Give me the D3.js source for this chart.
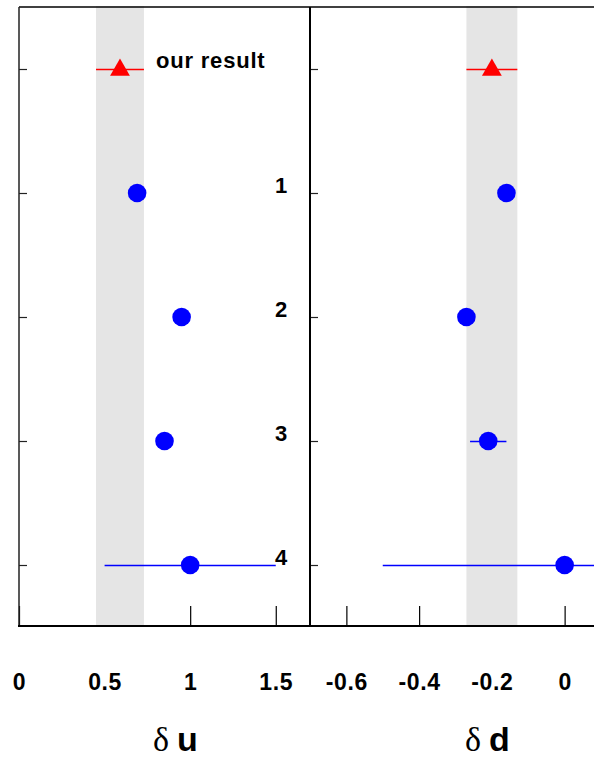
<!DOCTYPE html>
<html>
<head>
<meta charset="utf-8">
<script src="https://cdn.jsdelivr.net/npm/d3@7"></script>
<style>
html,body{margin:0;padding:0;background:#fff;overflow:hidden;}
svg{display:block;}
</style>
</head>
<body>
<svg id="chart" width="594" height="758"></svg>
<script>
// ---- data ----
const rowLabels = ["our result", "1", "2", "3", "4"];
const duValues = [0.59, 0.69, 0.95, 0.85, 1.0];
const duErrors = [0.14, 0, 0, 0, 0.5];
const ddValues = [-0.20, -0.16, -0.27, -0.21, 0.0];
const ddErrors = [0.07, 0, 0, 0.05, 0.5];
const bandU = [0.45, 0.73];
const bandD = [-0.27, -0.13];
const tickU = [0, 0.5, 1, 1.5];
const tickD = [-0.6, -0.4, -0.2, 0];
const tickLabelsU = ["0", "0.5", "1", "1.5"];
const tickLabelsD = ["-0.6", "-0.4", "-0.2", "0"];

(function () {
const svg = d3.select("#chart");
const yTop = 7, yBottom = 627;
const y = d3.scaleLinear().domain([-0.5, 4.5]).range([yTop, yBottom]);
const xU = d3.scaleLinear().domain([0, 1.7]).range([19, 310]);
const xD = d3.scaleLinear().domain([-0.7, 0.1]).range([310, 601]);
const idx = d3.range(rowLabels.length);

const fontSans = "'Liberation Sans', Arial, Helvetica, sans-serif";

function panel(x, vals, errs, band, ticks, tickLabels) {
  const g = svg.append("g");
  // x axis ticks + labels
  const ax = d3.axisBottom(x).tickValues(ticks)
    .tickFormat((d, i) => tickLabels[i])
    .tickSize(-20).tickPadding(48);
  const axg = g.append("g").attr("transform", `translate(0,${yBottom - 1})`).call(ax);
  axg.select(".domain").remove();
  axg.selectAll(".tick line").attr("stroke", "#000").attr("stroke-width", 1.2);
  axg.selectAll(".tick text").attr("fill", "#000")
    .style("font-family", fontSans).style("font-weight", "bold").style("font-size", "23px")
    .style("letter-spacing", "0.6px");
  // y ticks
  const ay = d3.axisRight(y).tickValues(idx).tickFormat("").tickSize(8);
  const ayg = g.append("g").attr("transform", `translate(${x.range()[0]},0)`).call(ay);
  ayg.select(".domain").remove();
  ayg.selectAll(".tick line").attr("stroke", "#222").attr("stroke-width", 1.2);
  // band
  g.append("rect")
    .attr("x", x(band[0])).attr("width", x(band[1]) - x(band[0]))
    .attr("y", yTop - 1).attr("height", yBottom - yTop)
    .attr("fill", "#e5e5e5");
  // error bars
  g.selectAll("line.err").data(idx.filter(i => errs[i] > 0)).enter().append("line")
    .attr("class", "err")
    .attr("x1", i => x(vals[i] - errs[i])).attr("x2", i => x(vals[i] + errs[i]))
    .attr("y1", i => y(i) + 0.5).attr("y2", i => y(i) + 0.5)
    .style("stroke", i => i === 0 ? "#ff0000" : "#0000ff").style("stroke-width", "1.4px");
  // triangle for our result
  g.append("path")
    .attr("d", d3.symbol().type(d3.symbolTriangle).size(170)())
    .attr("transform", `translate(${x(vals[0])},${y(0) + 1})`)
    .attr("fill", "#ff0000");
  // circles
  g.selectAll("circle.pt").data(idx.slice(1)).enter().append("circle")
    .attr("class", "pt")
    .attr("cx", i => x(vals[i])).attr("cy", i => y(i)).attr("r", 9.3)
    .attr("fill", "#0000ff");
}

panel(xU, duValues, duErrors, bandU, tickU, tickLabelsU);
panel(xD, ddValues, ddErrors, bandD, tickD, tickLabelsD);

// frame
svg.append("line").attr("x1", 19).attr("x2", 594).attr("y1", yTop).attr("y2", yTop)
  .attr("stroke", "#000").attr("stroke-width", 1.6);
svg.append("line").attr("x1", 19).attr("x2", 19).attr("y1", yTop).attr("y2", yBottom)
  .attr("stroke", "#222").attr("stroke-width", 1.5);
svg.append("line").attr("x1", 310).attr("x2", 310).attr("y1", yTop).attr("y2", yBottom)
  .attr("stroke", "#000").attr("stroke-width", 2);
svg.append("line").attr("x1", 18).attr("x2", 594).attr("y1", yBottom - 1).attr("y2", yBottom - 1)
  .attr("stroke", "#000").attr("stroke-width", 2);

// row labels
svg.append("text").attr("x", 156).attr("y", y(0) - 1)
  .style("font-family", fontSans).style("font-weight", "bold").style("font-size", "22px")
  .style("letter-spacing", "0.8px")
  .text(rowLabels[0]);
svg.selectAll("text.rl").data(idx.slice(1)).enter().append("text")
  .attr("class", "rl")
  .attr("x", 281).attr("y", i => y(i) - 0.5).attr("text-anchor", "middle")
  .style("font-family", fontSans).style("font-weight", "bold").style("font-size", "22px")
  .text(i => rowLabels[i]);

// axis titles
function title(xPos, letter) {
  const t = svg.append("text").attr("x", xPos).attr("y", 751);
  t.append("tspan").style("font-family", "'Liberation Serif', 'DejaVu Serif', serif")
    .style("font-size", "34px").text("δ");
  t.append("tspan").attr("dx", 8).style("font-family", fontSans).style("font-weight", "bold")
    .style("font-size", "34px").text(letter);
}
title(153, "u");
title(465, "d");
})();
</script>
</body>
</html>
